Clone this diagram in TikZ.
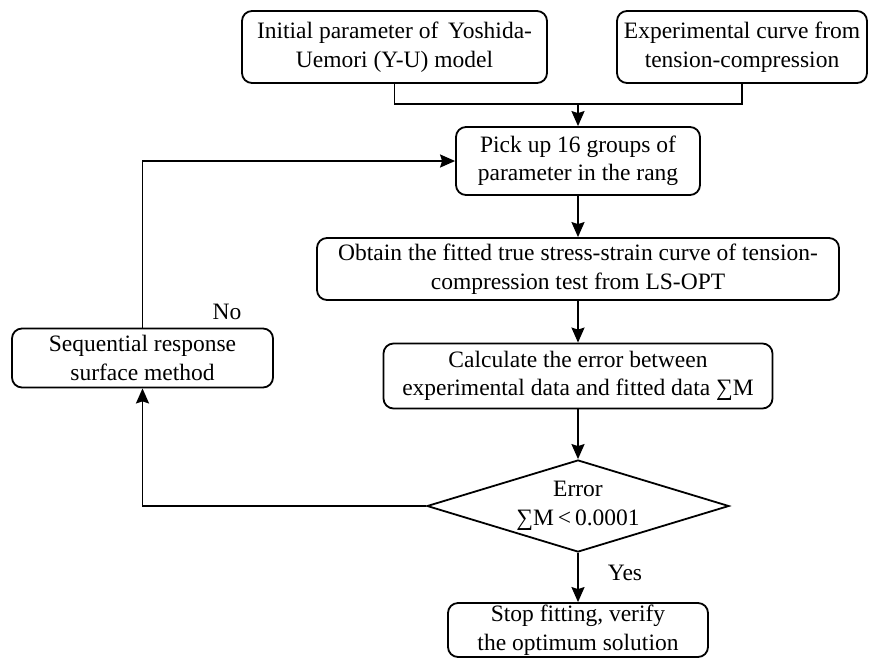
\documentclass[tikz,border=0pt]{standalone}
\usepackage{fontspec}
\setmainfont{Liberation Serif}
\usetikzlibrary{arrows.meta,shapes.geometric}
\begin{document}
\begin{tikzpicture}[x=1pt,y=-1pt,
  every node/.style={font=\fontsize{23.5}{28.5}\selectfont},
  box/.style={draw,line width=1.8pt,rounded corners=10pt,align=center,inner sep=0pt},
  arr/.style={line width=1.8pt,-{Stealth[length=15pt,width=13pt,inset=2pt]}},
  ln/.style={line width=1.8pt}]
\useasboundingbox (0,0) rectangle (869,657);
\node[box,minimum width=305pt,minimum height=72pt] (b1) at (394.5,47) {Initial parameter of\, Yoshida-\\Uemori (Y-U) model};
\node[box,minimum width=250pt,minimum height=72pt] (b2) at (742,47) {Experimental curve from\\tension-compression};
\node[box,minimum width=244pt,minimum height=68pt] (b3) at (578,161) {Pick up 16 groups of\\parameter in the rang};
\node[box,minimum width=522pt,minimum height=62pt] (b4) at (578,269) {Obtain the fitted true stress-strain curve of tension-\\compression test from LS-OPT};
\node[box,minimum width=389pt,minimum height=65pt] (b5) at (578,376) {Calculate the error between\\experimental data and fitted data ∑M};
\node[draw,line width=1.8pt,shape=diamond,aspect=3.28,minimum width=302pt,minimum height=92pt,inner sep=0pt,align=center] (d) at (578,506) {Error\\∑M\,<\,0.0001};
\node[box,minimum width=260pt,minimum height=54pt] (b6) at (578,630) {Stop fitting, verify\\the optimum solution};
\node[box,minimum width=261pt,minimum height=59pt] (s) at (142.5,358) {Sequential response\\surface method};
\node (no) at (227,312) {No};
\node (yes) at (625,573) {Yes};
\coordinate (j) at (578,104);
\draw[ln] (b1.south) |- (j);
\draw[ln] (b2.south) |- (j);
\draw[arr] (j) -- (b3.north);
\draw[arr] (b3.south) -- (b4.north);
\draw[arr] (b4.south) -- (b5.north);
\draw[arr] (b5.south) -- (d.north);
\draw[arr] (d.south) -- (b6.north);
\draw[arr] (d.west) -| (s.south);
\draw[arr] (s.north) |- (b3.west);
\end{tikzpicture}
\end{document}
